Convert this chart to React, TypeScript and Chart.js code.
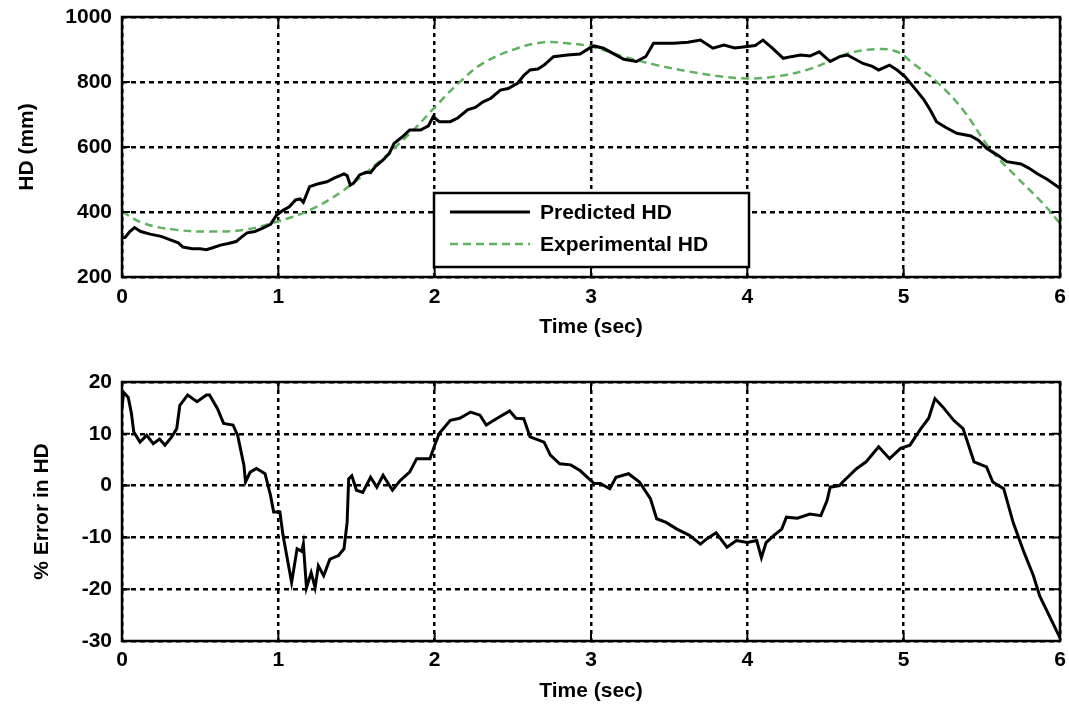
import React, { useEffect, useRef } from "react";
import { Chart, registerables } from "chart.js";

Chart.register(...registerables);

// ---------- data ----------
const predTime = [
  0, 0.02, 0.05, 0.08, 0.12, 0.18, 0.25, 0.31, 0.36, 0.39,
  0.45, 0.5, 0.54, 0.58, 0.63, 0.68, 0.73, 0.77, 0.8, 0.85,
  0.9, 0.95, 0.99, 1.03, 1.07, 1.11, 1.14, 1.16, 1.2, 1.25,
  1.31, 1.36, 1.42, 1.44, 1.46, 1.48, 1.52, 1.56, 1.59, 1.62,
  1.67, 1.71, 1.74, 1.79, 1.84, 1.91, 1.96, 1.99, 2.03, 2.1,
  2.15, 2.21, 2.26, 2.31, 2.36, 2.42, 2.47, 2.53, 2.57, 2.61,
  2.66, 2.7, 2.76, 2.85, 2.93, 2.98, 3.02, 3.08, 3.14, 3.21,
  3.29, 3.35, 3.4, 3.46, 3.53, 3.62, 3.7, 3.78, 3.85, 3.92,
  4.0, 4.05, 4.1, 4.16, 4.23, 4.28, 4.34, 4.4, 4.46, 4.53,
  4.59, 4.64, 4.69, 4.74, 4.8, 4.84, 4.91, 4.96, 5.01, 5.08,
  5.13, 5.17, 5.21, 5.27, 5.34, 5.43, 5.48, 5.53, 5.6, 5.66,
  5.75, 5.8, 5.85, 5.92, 6.0,
];
const predHD = [
  320, 322, 340, 352, 340, 332, 325, 314, 305, 292,
  287, 287, 284, 290, 298, 303, 309, 325, 336, 340,
  350, 362, 391, 405, 416, 437, 440, 430, 478, 486,
  493, 505, 517, 512, 483, 488, 514, 522, 521, 540,
  560, 580, 611, 630, 652, 652, 665, 693, 678, 678,
  690, 714, 722, 739, 750, 775, 780, 796, 820, 837,
  840, 852, 878, 883, 886, 901, 911, 904, 888, 870,
  863, 878, 919, 919, 919, 922, 929, 904, 914, 905,
  909, 912, 929, 904, 873, 878, 883, 880, 893, 863,
  878, 883, 870, 857, 848, 837, 852, 836, 816, 775,
  745, 714, 678, 660, 642, 634, 620, 596, 575, 555,
  548, 535, 519, 500, 473,
];

const expTime = [
  0, 0.14, 0.35, 0.56, 0.78, 0.99, 1.2, 1.42, 1.67, 1.75,
  1.89, 2.0, 2.15, 2.31, 2.53, 2.7, 2.85, 3.0, 3.21, 3.42,
  3.63, 3.85, 4.0, 4.17, 4.38, 4.57, 4.64, 4.83, 4.96, 5.06,
  5.21, 5.38, 5.55, 5.72, 5.89, 6.0,
];
const expHD = [
  401, 365, 345, 340, 345, 370, 406, 468, 565, 600,
  665, 722, 795, 858, 904, 922, 919, 909, 878, 852,
  832, 816, 811, 816, 837, 873, 888, 901, 893, 857,
  801, 714, 596, 509, 427, 365,
];

const errTime = [
  0, 0.01, 0.04, 0.06, 0.075, 0.115, 0.158, 0.2, 0.24, 0.275,
  0.318, 0.35, 0.37, 0.42, 0.48, 0.54, 0.56, 0.61, 0.65, 0.71,
  0.74, 0.78, 0.79, 0.82, 0.86, 0.915, 0.95, 0.97, 1.01, 1.03,
  1.085, 1.12, 1.15, 1.16, 1.18, 1.21, 1.235, 1.256, 1.29, 1.33,
  1.385, 1.42, 1.44, 1.45, 1.47, 1.5, 1.54, 1.59, 1.63, 1.67,
  1.73, 1.78, 1.84, 1.885, 1.97, 2.0, 2.03, 2.1, 2.16, 2.23,
  2.29, 2.33, 2.4, 2.48, 2.52, 2.57, 2.61, 2.7, 2.74, 2.8,
  2.87, 2.93, 3.02, 3.06, 3.12, 3.16, 3.24, 3.31, 3.38, 3.42,
  3.48, 3.55, 3.63, 3.7, 3.74, 3.8, 3.87, 3.93, 4.0, 4.06,
  4.09, 4.12, 4.17, 4.22, 4.25, 4.32, 4.4, 4.47, 4.51, 4.53,
  4.59, 4.61, 4.7, 4.76, 4.84, 4.91, 4.98, 5.04, 5.11, 5.16,
  5.2, 5.25, 5.32, 5.38, 5.45, 5.53, 5.57, 5.64, 5.7, 5.77,
  5.83, 5.87, 6.0,
];
const errPct = [
  15, 18, 17, 14, 10.4, 8.4, 9.7, 8.1, 9, 7.8,
  9.4, 11, 15.5, 17.5, 16.2, 17.5, 17.5, 14.9, 12, 11.7,
  9.7, 3.9, 0.7, 2.6, 3.3, 2.3, -1.9, -5.1, -5.1, -9.6,
  -18.7, -12.2, -12.7, -11.3, -19.7, -16.8, -19.7, -15.5, -17.4, -14.2,
  -13.5, -12.2, -7.1, 1.3, 1.9, -0.9, -1.3, 1.6, -0.3, 2.0,
  -0.9, 1.0, 2.6, 5.2, 5.2, 7.8, 10.1, 12.6, 13.0, 14.2,
  13.6, 11.7, 13, 14.4, 13, 12.9, 9.4, 8.4, 5.9, 4.2,
  4, 2.9, 0.4, 0.4, -0.6, 1.6, 2.3, 0.7, -2.5, -6.4,
  -7.1, -8.4, -9.6, -11.3, -10.3, -9.1, -11.9, -10.6, -11.0, -10.6,
  -13.9, -11, -9.6, -8.4, -6.1, -6.3, -5.5, -5.8, -2.9, -0.3,
  0, 0.7, 3.3, 4.6, 7.5, 5.2, 7.2, 7.8, 11, 13,
  16.8, 15.2, 12.6, 11, 4.6, 3.6, 0.7, -0.6, -7.1, -12.9,
  -17.4, -21.3, -29.4,
];

const timeTicks = [0, 1, 2, 3, 4, 5, 6];
const hdTicks = [200, 400, 600, 800, 1000];
const errTicks = [-30, -20, -10, 0, 10, 20];
const legendLabels = ["Predicted HD", "Experimental HD"];

// ---------- styles ----------
const FONT_FAMILY = "'Liberation Sans', Arial, Helvetica, sans-serif";
const FONT = { family: FONT_FAMILY, size: 21, weight: "bold" as const };
const GREEN = "rgb(96,178,96)";
const W = 1069;
const H1 = 345;
const H2 = 359;

const pairs = (xs: number[], ys: number[]) => xs.map((x, i) => ({ x, y: ys[i] }));

const framePlugin = {
  id: "matlabFrame",
  afterDatasetsDraw(chart: any) {
    const { ctx, chartArea: a, scales } = chart;
    ctx.save();
    ctx.setLineDash([]);
    ctx.strokeStyle = "#000";
    ctx.lineWidth = 2;
    const tl = 8;
    scales.x.ticks.forEach((t: any) => {
      const px = scales.x.getPixelForValue(t.value);
      ctx.beginPath();
      ctx.moveTo(px, a.bottom);
      ctx.lineTo(px, a.bottom - tl);
      ctx.moveTo(px, a.top);
      ctx.lineTo(px, a.top + tl);
      ctx.stroke();
    });
    scales.y.ticks.forEach((t: any) => {
      const py = scales.y.getPixelForValue(t.value);
      ctx.beginPath();
      ctx.moveTo(a.left, py);
      ctx.lineTo(a.left + tl, py);
      ctx.moveTo(a.right, py);
      ctx.lineTo(a.right - tl, py);
      ctx.stroke();
    });
    ctx.lineWidth = 2.5;
    ctx.strokeRect(a.left, a.top, a.right - a.left, a.bottom - a.top);
    ctx.restore();
  },
};

const legendPlugin = {
  id: "boxLegend",
  afterDraw(chart: any) {
    const { ctx, chartArea: a } = chart;
    const bx = a.left + 312;
    const by = a.top + 176;
    const bw = 315;
    const bh = 74;
    ctx.save();
    ctx.fillStyle = "#fff";
    ctx.fillRect(bx, by, bw, bh);
    ctx.setLineDash([]);
    ctx.strokeStyle = "#000";
    ctx.lineWidth = 2.5;
    ctx.strokeRect(bx, by, bw, bh);
    const ds = chart.data.datasets;
    const rows = [by + 19, by + 51];
    rows.forEach((y, i) => {
      const d = ds[i];
      ctx.beginPath();
      ctx.strokeStyle = d.borderColor;
      ctx.lineWidth = d.borderWidth;
      ctx.setLineDash(d.borderDash || []);
      ctx.moveTo(bx + 16, y);
      ctx.lineTo(bx + 96, y);
      ctx.stroke();
      ctx.setLineDash([]);
      ctx.fillStyle = "#000";
      ctx.font = `bold ${FONT.size}px ${FONT_FAMILY}`;
      ctx.textAlign = "left";
      ctx.textBaseline = "middle";
      ctx.fillText(legendLabels[i], bx + 106, y + 1);
    });
    ctx.restore();
  },
};

function xAxis(tickPad: number, height: number, titlePadBottom: number) {
  return {
    type: "linear" as const,
    min: 0,
    max: 6,
    afterBuildTicks: (s: any) => {
      s.ticks = timeTicks.map((v) => ({ value: v }));
    },
    ticks: {
      font: FONT,
      color: "#000",
      padding: tickPad,
      maxRotation: 0,
      autoSkip: false,
      callback: (v: any) => String(v),
    },
    grid: { color: "#000", lineWidth: 2.5, drawTicks: false },
    border: { display: false, dash: [4, 4] },
    title: {
      display: true,
      text: "Time (sec)",
      font: FONT,
      color: "#000",
      padding: { top: 0, bottom: titlePadBottom },
    },
    afterFit: (s: any) => {
      s.height = height;
      s.paddingLeft = 0;
      s.paddingRight = 0;
    },
  };
}

function yAxis(min: number, max: number, ticks: number[], title: string, titlePadTop: number) {
  return {
    type: "linear" as const,
    min,
    max,
    afterBuildTicks: (s: any) => {
      s.ticks = ticks.map((v) => ({ value: v }));
    },
    ticks: {
      font: FONT,
      color: "#000",
      padding: 10,
      autoSkip: false,
      callback: (v: any) => String(v),
    },
    grid: { color: "#000", lineWidth: 2.5, drawTicks: false },
    border: { display: false, dash: [5, 4] },
    title: {
      display: true,
      text: title,
      font: FONT,
      color: "#000",
      padding: { top: titlePadTop, bottom: 0 },
    },
    afterFit: (s: any) => {
      s.width = 122;
      s.paddingTop = 0;
      s.paddingBottom = 0;
    },
  };
}

export default function App() {
  const topRef = useRef<HTMLCanvasElement | null>(null);
  const botRef = useRef<HTMLCanvasElement | null>(null);

  useEffect(() => {
    const top = new Chart(topRef.current as HTMLCanvasElement, {
      type: "line",
      data: {
        datasets: [
          {
            label: legendLabels[0],
            data: pairs(predTime, predHD),
            borderColor: "#000",
            borderWidth: 3,
            pointRadius: 0,
            tension: 0,
          },
          {
            label: legendLabels[1],
            data: pairs(expTime, expHD),
            borderColor: GREEN,
            borderWidth: 2.5,
            borderDash: [8, 5],
            pointRadius: 0,
            tension: 0.4,
          },
        ],
      },
      options: {
        responsive: false,
        animation: false,
        devicePixelRatio: 1,
        events: [],
        layout: { padding: { left: 0, right: 9, top: 17, bottom: 0 } },
        plugins: { legend: { display: false }, tooltip: { enabled: false } },
        scales: {
          x: xAxis(8, H1 - 277, 5),
          y: yAxis(200, 1000, hdTicks, "HD (mm)", 15),
        },
      },
      plugins: [framePlugin, legendPlugin],
    } as any);

    const bot = new Chart(botRef.current as HTMLCanvasElement, {
      type: "line",
      data: {
        datasets: [
          {
            label: "% Error in HD",
            data: pairs(errTime, errPct),
            borderColor: "#000",
            borderWidth: 3,
            pointRadius: 0,
            tension: 0,
          },
        ],
      },
      options: {
        responsive: false,
        animation: false,
        devicePixelRatio: 1,
        events: [],
        layout: { padding: { left: 0, right: 9, top: 37, bottom: 0 } },
        plugins: { legend: { display: false }, tooltip: { enabled: false } },
        scales: {
          x: xAxis(7, H2 - 296, 0),
          y: yAxis(-30, 20, errTicks, "% Error in HD", 30),
        },
      },
      plugins: [framePlugin],
    } as any);

    return () => {
      top.destroy();
      bot.destroy();
    };
  }, []);

  return (
    <div style={{ position: "fixed", left: 0, top: 0, width: W, height: H1 + H2, background: "#fff" }}>
      <canvas
        ref={topRef}
        width={W}
        height={H1}
        style={{ position: "absolute", left: 0, top: 0, width: W, height: H1, display: "block" }}
      />
      <canvas
        ref={botRef}
        width={W}
        height={H2}
        style={{ position: "absolute", left: 0, top: H1, width: W, height: H2, display: "block" }}
      />
    </div>
  );
}
